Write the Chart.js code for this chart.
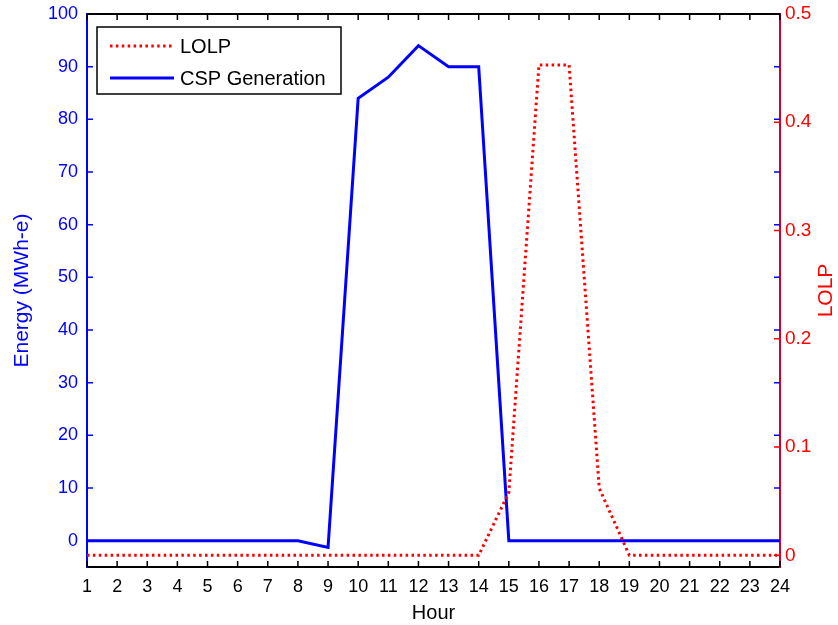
<!DOCTYPE html>
<html>
<head>
<meta charset="utf-8">
<script src="https://cdn.jsdelivr.net/npm/chart.js@4.4.1/dist/chart.umd.min.js"></script>
<style>
  body { margin: 0; background: #fff; }
  canvas { display: block; }
</style>
</head>
<body>
<canvas id="myChart" width="838" height="625"></canvas>
<script>
const hours = [1, 2, 3, 4, 5, 6, 7, 8, 9, 10, 11, 12, 13, 14, 15, 16, 17, 18, 19, 20, 21, 22, 23, 24];
const cspGeneration = [0, 0, 0, 0, 0, 0, 0, 0, -1.3, 84, 88, 94, 90, 90, 0, 0, 0, 0, 0, 0, 0, 0, 0, 0];
const lolp = [0, 0, 0, 0, 0, 0, 0, 0, 0, 0, 0, 0, 0, 0, 0.058, 0.453, 0.453, 0.062, 0, 0, 0, 0, 0, 0];
const energyTicks = [0, 10, 20, 30, 40, 50, 60, 70, 80, 90, 100];
const lolpTicks = [0, 0.1, 0.2, 0.3, 0.4, 0.5];
const rightTitle = 'LOLP';

const BLUE = '#0000ff';
const RED = '#ff0000';
const FONT = "'Liberation Sans', Arial, sans-serif";

// matlab style ticks pointing into the plot, plus the top frame line
const inwardTicks = {
  id: 'inwardTicks',
  afterDatasetsDraw(chart) {
    const { ctx, chartArea: a, scales: { x, y, y1 } } = chart;
    const len = 6;
    ctx.save();
    ctx.lineWidth = 1.5;

    ctx.strokeStyle = '#000';
    ctx.beginPath();
    hours.forEach(h => {
      const px = x.getPixelForValue(h);
      ctx.moveTo(px, a.bottom); ctx.lineTo(px, a.bottom - len);
      ctx.moveTo(px, a.top); ctx.lineTo(px, a.top + len);
    });
    ctx.stroke();

    ctx.strokeStyle = BLUE;
    ctx.beginPath();
    energyTicks.forEach(v => {
      const py = y.getPixelForValue(v);
      ctx.moveTo(a.left, py); ctx.lineTo(a.left + len, py);
      ctx.moveTo(a.right, py); ctx.lineTo(a.right - len, py);
    });
    ctx.stroke();

    ctx.strokeStyle = RED;
    ctx.beginPath();
    lolpTicks.forEach(v => {
      const py = y1.getPixelForValue(v);
      ctx.moveTo(a.right, py); ctx.lineTo(a.right - len, py);
    });
    ctx.stroke();

    ctx.strokeStyle = '#000';
    ctx.lineWidth = 2;
    ctx.beginPath();
    ctx.moveTo(a.left, a.top); ctx.lineTo(a.right, a.top);
    ctx.stroke();

    // right axis title reads bottom-to-top like the left one
    ctx.fillStyle = RED;
    ctx.font = '21px ' + FONT;
    ctx.textAlign = 'center';
    ctx.textBaseline = 'middle';
    ctx.translate(826, (a.top + a.bottom) / 2);
    ctx.rotate(-Math.PI / 2);
    ctx.fillText(rightTitle, 0, 0);
    ctx.restore();
  }
};

// boxed legend in the upper left corner of the plot
const boxLegend = {
  id: 'boxLegend',
  afterDraw(chart) {
    const { ctx, chartArea: a } = chart;
    const bx = a.left + 10, by = a.top + 13, bw = 244, bh = 67;
    ctx.save();
    ctx.fillStyle = '#fff';
    ctx.fillRect(bx, by, bw, bh);
    ctx.strokeStyle = '#000';
    ctx.lineWidth = 1.5;
    ctx.strokeRect(bx, by, bw, bh);
    ctx.font = '20px ' + FONT;
    ctx.textBaseline = 'middle';
    ctx.fillStyle = '#000';
    chart.data.datasets.forEach((ds, i) => {
      const ly = by + 19 + i * 32;
      ctx.strokeStyle = ds.borderColor;
      ctx.lineWidth = ds.borderWidth;
      ctx.setLineDash(ds.borderDash || []);
      ctx.beginPath();
      ctx.moveTo(bx + 13, ly); ctx.lineTo(bx + 77, ly);
      ctx.stroke();
      ctx.setLineDash([]);
      ctx.fillText(ds.label, bx + 83, ly + 1);
    });
    ctx.restore();
  }
};

const ctx = document.getElementById('myChart').getContext('2d');
new Chart(ctx, {
  type: 'line',
  data: {
    labels: hours,
    datasets: [
      {
        label: 'LOLP',
        data: hours.map((h, i) => ({ x: h, y: lolp[i] })),
        yAxisID: 'y1',
        borderColor: RED,
        borderWidth: 3,
        borderDash: [2.5, 3.4],
        pointRadius: 0,
        tension: 0,
        fill: false
      },
      {
        label: 'CSP Generation',
        data: hours.map((h, i) => ({ x: h, y: cspGeneration[i] })),
        yAxisID: 'y',
        borderColor: BLUE,
        borderWidth: 3,
        pointRadius: 0,
        tension: 0,
        fill: false
      }
    ]
  },
  options: {
    responsive: false,
    animation: false,
    layout: { padding: { top: 14, left: 0, right: 0, bottom: 0 } },
    plugins: { legend: { display: false }, tooltip: { enabled: false } },
    scales: {
      x: {
        type: 'linear',
        position: 'bottom',
        min: 1,
        max: 24,
        afterBuildTicks: axis => { axis.ticks = hours.map(v => ({ value: v })); },
        afterFit: axis => { axis.height = 58; axis.paddingLeft = 0; axis.paddingRight = 0; },
        grid: { display: true, drawOnChartArea: false, drawTicks: false },
        border: { color: '#000', width: 2 },
        ticks: { color: '#000', font: { family: FONT, size: 18 }, padding: 9, maxRotation: 0, autoSkip: false },
        title: { display: true, text: 'Hour', color: '#000', font: { family: FONT, size: 20 }, padding: { top: 4, bottom: 0 } }
      },
      y: {
        position: 'left',
        min: -5,
        max: 100,
        afterBuildTicks: axis => { axis.ticks = energyTicks.map(v => ({ value: v })); },
        afterFit: axis => { axis.width = 87; axis.paddingTop = 0; axis.paddingBottom = 0; },
        grid: { display: true, drawOnChartArea: false, drawTicks: false },
        border: { color: BLUE, width: 2 },
        ticks: { color: BLUE, font: { family: FONT, size: 18 }, padding: 9, callback: v => String(v) },
        title: { display: true, text: 'Energy (MWh-e)', color: BLUE, font: { family: FONT, size: 21 }, padding: { top: 10, bottom: 0 } }
      },
      y1: {
        position: 'right',
        min: -0.0108,
        max: 0.5,
        afterBuildTicks: axis => { axis.ticks = lolpTicks.map(v => ({ value: v })); },
        afterFit: axis => { axis.width = 58; axis.paddingTop = 0; axis.paddingBottom = 0; },
        grid: { display: true, drawOnChartArea: false, drawTicks: false },
        border: { color: 'rgb(210,0,45)', width: 2 },
        ticks: { color: RED, font: { family: FONT, size: 19 }, padding: 5, callback: v => String(v) }
      }
    }
  },
  plugins: [inwardTicks, boxLegend]
});
</script>
</body>
</html>
